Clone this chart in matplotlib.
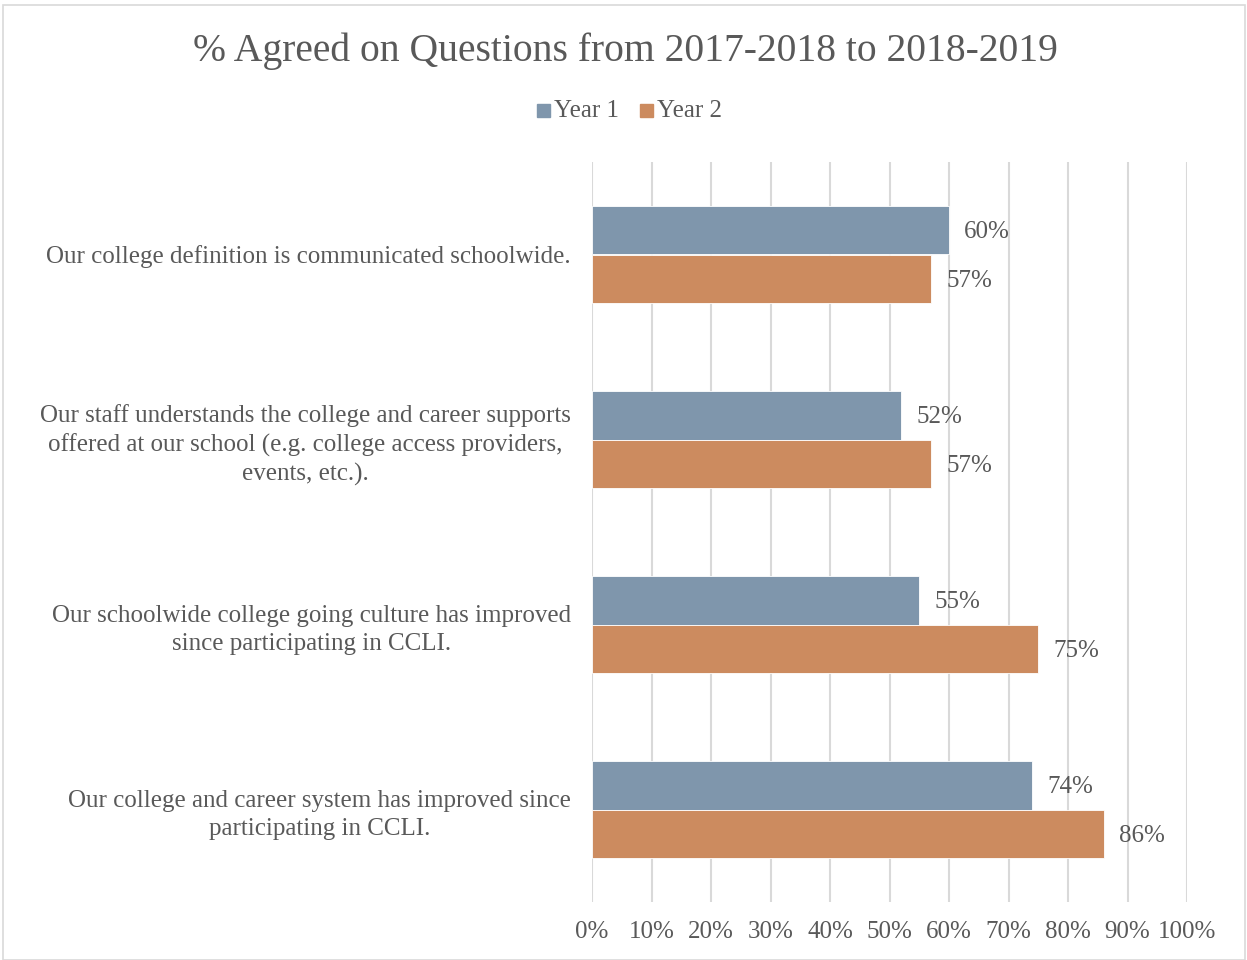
import numpy as np
import matplotlib.pyplot as plt
from matplotlib.patches import Rectangle

# data
questions = [
    "Our college definition is communicated schoolwide.",
    "Our staff understands the college and career supports\noffered at our school (e.g. college access providers,\nevents, etc.).",
    "Our schoolwide college going culture has improved\nsince participating in CCLI.",
    "Our college and career system has improved since\nparticipating in CCLI.",
]
year1 = [60, 52, 55, 74]
year2 = [57, 57, 75, 86]
series_names = ["Year 1", "Year 2"]
ticks = [0, 10, 20, 30, 40, 50, 60, 70, 80, 90, 100]

c1 = "#7F96AC"
c2 = "#CC8B5F"
txt = "#595959"
plt.rcParams['font.family'] = ['Liberation Serif', 'DejaVu Serif']

fig = plt.figure(figsize=(12.47, 9.6), dpi=100)
W, H = 1247, 960
ax = fig.add_axes([592 / W, 1 - 902 / H, (1187 - 592) / W, (902 - 162) / H])

y = np.arange(len(questions))
h = 0.26
ax.barh(y - h / 2, year1, height=h, color=c1, edgecolor="white", linewidth=0.6, zorder=3)
ax.barh(y + h / 2, year2, height=h, color=c2, edgecolor="white", linewidth=0.6, zorder=3)

for i in range(len(questions)):
    ax.annotate("%d%%" % year1[i], (year1[i], y[i] - h / 2), xytext=(15, -2),
                textcoords="offset pixels", va="center", ha="left", fontsize=18, color=txt)
    ax.annotate("%d%%" % year2[i], (year2[i], y[i] + h / 2), xytext=(15, -2),
                textcoords="offset pixels", va="center", ha="left", fontsize=18, color=txt)

ax.set_xlim(0, 100)
ax.set_ylim(len(questions) - 0.5, -0.5)
ax.set_xticks(ticks)
ax.set_xticklabels(["%d%%" % t for t in ticks], fontsize=18, color=txt)
ax.set_yticks(y)
ax.set_yticklabels(questions, fontsize=18, color=txt, ha="right",
                   multialignment="center", linespacing=1.35)
ax.tick_params(axis="y", length=0, pad=(592 - 571) * 0.72)
ax.tick_params(axis="x", length=0, pad=14)
ax.grid(axis="x", color="#D9D9D9", linewidth=1.5, zorder=0)
for s in ax.spines.values():
    s.set_visible(False)

fig.text(625 / W, 1 - 51 / H, "% Agreed on Questions from 2017-2018 to 2018-2019",
         ha="center", va="center", fontsize=28.5, color=txt)

# legend
for x0, col, name in [(537, c1, series_names[0]), (640, c2, series_names[1])]:
    fig.patches.append(Rectangle((x0 / W, 1 - 117 / H), 13 / W, 13 / H,
                                 transform=fig.transFigure, color=col))
    fig.text((x0 + 17) / W, 1 - 111 / H, name, ha="left", va="center", fontsize=18, color=txt)

# chart border
fig.patches.append(Rectangle((3 / W, 0), 1242 / W, 1 - 5 / H, transform=fig.transFigure,
                             fill=False, edgecolor="#D9D9D9", linewidth=1.2))

fig.savefig("out.png", dpi=100)
